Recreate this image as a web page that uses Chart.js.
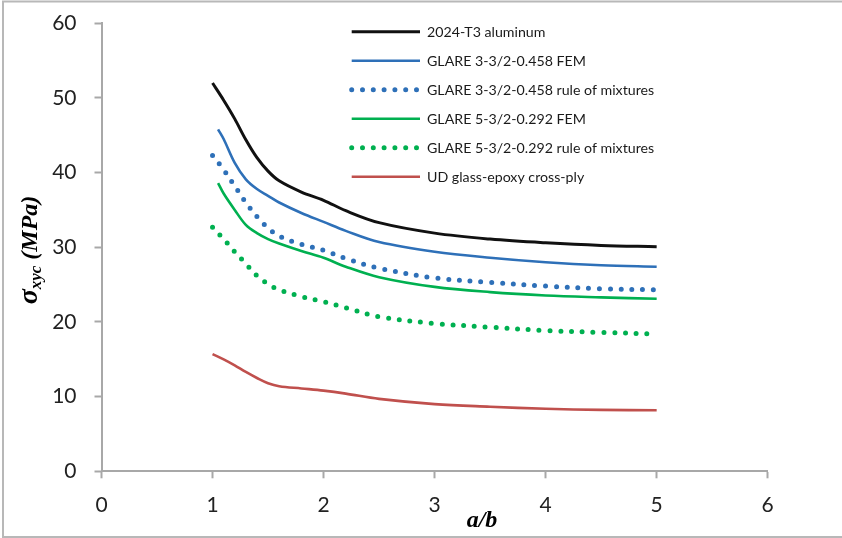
<!DOCTYPE html>
<html>
<head>
<meta charset="utf-8">
<script src="https://cdn.jsdelivr.net/npm/chart.js@4.4.1/dist/chart.umd.min.js"></script>
<style>
  html, body { margin: 0; padding: 0; background: #ffffff; }
  #wrap { width: 842px; height: 538px; position: relative; }
</style>
</head>
<body>
<div id="wrap"><canvas id="chart" width="842" height="538"></canvas></div>
<script>
// Aspect ratio a/b sampling points
const ratioFull = [1.0, 1.1, 1.2, 1.3, 1.4, 1.5, 1.6, 1.8, 2.0, 2.2, 2.5, 3.0, 3.5, 4.0, 4.5, 5.0];
const ratioFem  = [1.05, 1.1, 1.2, 1.3, 1.4, 1.5, 1.6, 1.8, 2.0, 2.2, 2.5, 3.0, 3.5, 4.0, 4.5, 5.0];

// Critical shear buckling stress, MPa
const aluminum2024 = [52.0, 49.7, 47.2, 44.4, 42.0, 40.2, 38.9, 37.4, 36.3, 34.9, 33.3, 31.9, 31.1, 30.6, 30.25, 30.07];
const glare3Fem    = [45.8, 44.5, 41.3, 39.1, 37.8, 36.9, 36.0, 34.6, 33.4, 32.2, 30.7, 29.4, 28.6, 28.0, 27.6, 27.4];
const glare3Rom    = [42.3, 40.4, 38.2, 36.0, 34.1, 32.6, 31.5, 30.4, 29.6, 28.5, 27.2, 25.9, 25.3, 24.8, 24.45, 24.3];
const glare5Fem    = [38.6, 37.2, 35.0, 33.0, 31.9, 31.1, 30.5, 29.5, 28.6, 27.4, 26.0, 24.7, 24.0, 23.55, 23.3, 23.1];
const glare5Rom    = [32.7, 31.1, 29.4, 27.8, 26.2, 25.1, 24.3, 23.4, 22.7, 21.9, 20.7, 19.8, 19.3, 18.85, 18.6, 18.4];
const udCrossPly   = [15.7, 15.0, 14.2, 13.3, 12.5, 11.8, 11.4, 11.1, 10.8, 10.4, 9.7, 9.0, 8.65, 8.37, 8.22, 8.17];

const seriesNames = [
  '2024-T3 aluminum',
  'GLARE 3-3/2-0.458 FEM',
  'GLARE 3-3/2-0.458 rule of mixtures',
  'GLARE 5-3/2-0.292 FEM',
  'GLARE 5-3/2-0.292 rule of mixtures',
  'UD glass-epoxy cross-ply'
];

const xTicks = [0, 1, 2, 3, 4, 5, 6];
const yTicks = [0, 10, 20, 30, 40, 50, 60];

const pts = (xs, ys) => xs.map((x, i) => ({ x: x, y: ys[i] }));

const DOT = [0, 10.8];
const solid = (name, xs, ys, color, w) => ({
  label: name, data: pts(xs, ys), borderColor: color, backgroundColor: color,
  borderWidth: w, pointRadius: 0, fill: false, tension: 0.35,
  borderCapStyle: 'butt', borderJoinStyle: 'round', _dotted: false
});
const dotted = (name, xs, ys, color) => ({
  label: name, data: pts(xs, ys), borderColor: color, backgroundColor: color,
  borderWidth: 5, borderDash: DOT, borderCapStyle: 'round', pointRadius: 0, fill: false,
  tension: 0.35, _dotted: true
});

const datasets = [
  solid(seriesNames[0], ratioFull, aluminum2024, '#111111', 3),
  solid(seriesNames[1], ratioFem, glare3Fem, '#2E70B8', 2.6),
  dotted(seriesNames[2], ratioFull, glare3Rom, '#2E70B8'),
  solid(seriesNames[3], ratioFem, glare5Fem, '#00B050', 2.6),
  dotted(seriesNames[4], ratioFull, glare5Rom, '#00B050'),
  solid(seriesNames[5], ratioFull, udCrossPly, '#C0504D', 2.6)
];

const AXIS_GRAY = '#a8a8a8';
const TICK_FONT = { family: 'Lato, "Open Sans", sans-serif', size: 21 };

// Frame, axis titles and in-plot legend
const decorations = {
  id: 'decorations',
  afterDraw(chart) {
    const ctx = chart.ctx;
    ctx.save();
    // outer frame
    ctx.strokeStyle = '#b8b8b8';
    ctx.lineWidth = 2;
    ctx.strokeRect(3, 1.5, 860, 535.5);

    // legend
    const lx0 = 351.7, lx1 = 418, tx = 427, ly0 = 31.7, dy = 29;
    ctx.font = '14.2px Lato, "Open Sans", sans-serif';
    ctx.textBaseline = 'middle';
    ctx.textAlign = 'left';
    chart.data.datasets.forEach((ds, i) => {
      const y = ly0 + i * dy;
      ctx.beginPath();
      ctx.strokeStyle = ds.borderColor;
      ctx.lineWidth = ds.borderWidth;
      if (ds._dotted) {
        ctx.setLineDash(DOT);
        ctx.lineCap = 'round';
      } else {
        ctx.setLineDash([]);
        ctx.lineCap = 'butt';
      }
      ctx.moveTo(lx0, y);
      ctx.lineTo(ds._dotted ? lx1 : 420, y);
      ctx.stroke();
      ctx.setLineDash([]);
      ctx.fillStyle = '#1a1a1a';
      ctx.fillText(ds.label, tx, y + 0.5);
    });

    // x-axis title
    ctx.fillStyle = '#000000';
    ctx.font = 'italic bold 24px "Liberation Serif", "Times New Roman", serif';
    ctx.textAlign = 'center';
    ctx.textBaseline = 'alphabetic';
    ctx.fillText('a/b', 482, 527);

    // y-axis title with subscript, rotated
    ctx.translate(37, 250);
    ctx.rotate(-Math.PI / 2);
    const fSig = 'italic bold 28px "Liberation Serif", "Times New Roman", serif';
    const fSub = 'italic bold 17px "Liberation Serif", "Times New Roman", serif';
    const fMain = 'italic bold 24px "Liberation Serif", "Times New Roman", serif';
    ctx.font = fSig; const wSig = ctx.measureText('σ').width;
    ctx.font = fSub; const wSub = ctx.measureText('xyc').width;
    ctx.font = fMain; const wMain = ctx.measureText(' (MPa)').width;
    let x = -(wSig + wSub + wMain) / 2;
    ctx.textAlign = 'left';
    ctx.font = fSig; ctx.fillText('σ', x, 0); x += wSig;
    ctx.font = fSub; ctx.fillText('xyc', x, 4); x += wSub;
    ctx.font = fMain; ctx.fillText(' (MPa)', x, 0);
    ctx.restore();
  }
};

new Chart(document.getElementById('chart'), {
  type: 'line',
  data: { datasets: datasets },
  plugins: [decorations],
  options: {
    responsive: false,
    animation: false,
    layout: { padding: { left: 0, right: 74.3, top: 23.3, bottom: 0 } },
    plugins: { legend: { display: false }, tooltip: { enabled: false }, title: { display: false } },
    scales: {
      x: {
        type: 'linear', min: 0, max: 6,
        afterFit(s) { s.height = 538 - 471.3; s.paddingLeft = 0; s.paddingRight = 0; },
        afterBuildTicks(s) { s.ticks = xTicks.map(v => ({ value: v })); },
        border: { display: true, color: AXIS_GRAY, width: 2 },
        grid: { drawOnChartArea: false, drawTicks: true, tickLength: 7, tickColor: AXIS_GRAY, tickWidth: 2 },
        ticks: { color: '#222222', font: TICK_FONT, padding: 14, maxRotation: 0 }
      },
      y: {
        type: 'linear', min: 0, max: 60,
        afterFit(s) { s.width = 101.5; s.paddingTop = 0; s.paddingBottom = 0; },
        afterBuildTicks(s) { s.ticks = yTicks.map(v => ({ value: v })); },
        border: { display: true, color: AXIS_GRAY, width: 2 },
        grid: { drawOnChartArea: false, drawTicks: true, tickLength: 7, tickColor: AXIS_GRAY, tickWidth: 2 },
        ticks: { color: '#222222', font: TICK_FONT, padding: 18 }
      }
    }
  }
});
</script>
</body>
</html>
